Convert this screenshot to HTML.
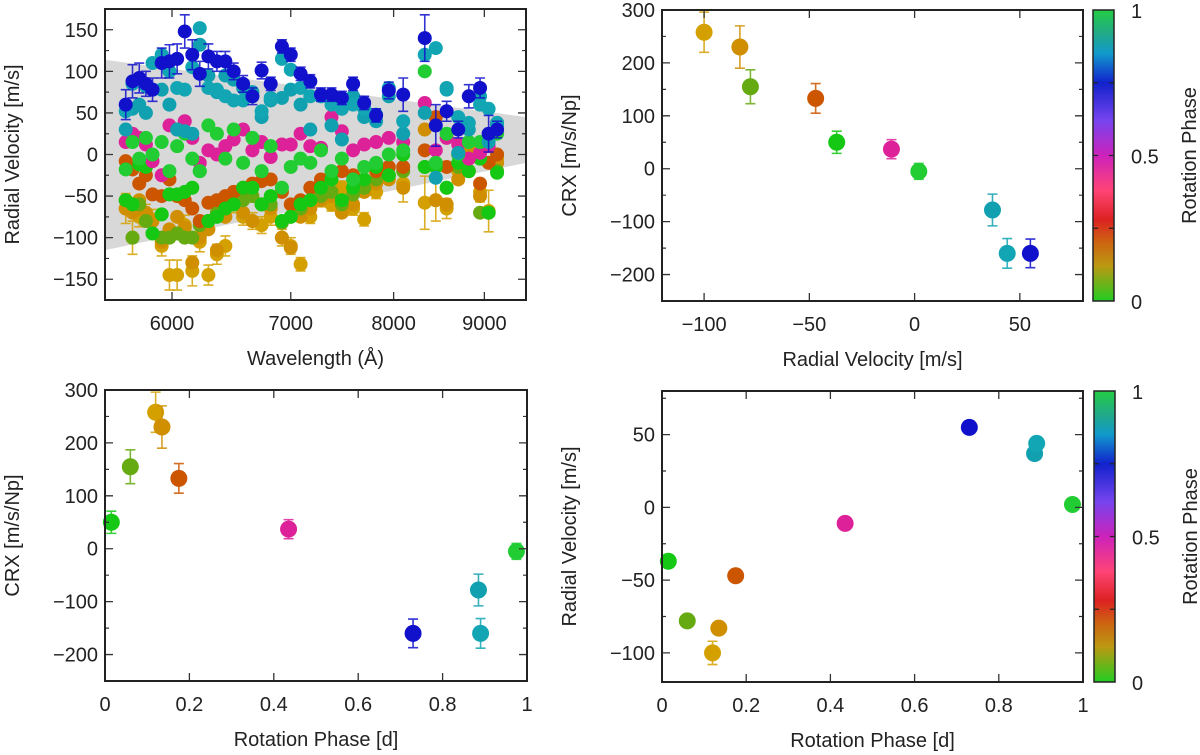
<!DOCTYPE html>
<html><head><meta charset="utf-8">
<style>
html,body{margin:0;padding:0;background:#fff;}
svg{display:block;font-family:"Liberation Sans",sans-serif;}
</style></head>
<body>
<svg id="fig" width="1200" height="755" viewBox="0 0 1200 755" xmlns="http://www.w3.org/2000/svg">
<defs>
<linearGradient id="cmap" x1="0" y1="0" x2="0" y2="1">
<stop offset="0" stop-color="#22cc44"/><stop offset="0.08" stop-color="#22aa88"/><stop offset="0.15" stop-color="#1199cc"/>
<stop offset="0.25" stop-color="#1122cc"/><stop offset="0.38" stop-color="#7744ee"/><stop offset="0.5" stop-color="#cc22bb"/>
<stop offset="0.62" stop-color="#ff4477"/><stop offset="0.72" stop-color="#dd2222"/><stop offset="0.8" stop-color="#cc6611"/>
<stop offset="0.88" stop-color="#bb9911"/><stop offset="1" stop-color="#22cc22"/>
</linearGradient>
</defs>
</svg>
<script>
// ---- data ----
const epochPhase = [0.015, 0.06, 0.12, 0.135, 0.175, 0.435, 0.73, 0.885, 0.89, 0.975];
const epochRV    = [-37, -78, -100, -83, -47, -11, 55, 37, 44, 2];
const epochRVerr = [0, 0, 8, 4, 0, 0, 0, 0, 0, 0];
const epochCRX   = [50, 155, 258, 230, 133, 37, -160, -78, -160, -5];
const epochCRXerr= [21, 32, 38, 40, 28, 18, 27, 30, 28, 15];
const epochColor = ['#14c814','#66aa11','#d4a000','#cf8f00','#cc5500','#dd2299','#1111cc','#11a0b0','#12a6b5','#22cc33'];

const wavelengths = [5650,5700,5750,5800,5850,5920,5980,6040,6100,6160,6220,6290,6360,6430,6500,6580,6660,6740,6820,6920,7000,7090,7180,7280,7380,7480,7590,7700,7820,7950,8100,8330,8450,8570,8700,8820,8950,9050,9150];
const rvOchre    = [-65,-100,-75,-72,-78,-110,-145,-145,-85,-140,-105,-145,-120,-110,-60,-75,-80,-85,-75,-100,-110,-132,-75,-55,-60,-40,-65,-78,-45,-25,-35,-58,-55,-65,-20,-5,-45,-68,-5];
const rvOchreErr = [18,20,12,12,12,12,18,18,12,18,12,12,12,12,10,10,10,10,10,10,10,8,8,8,8,8,8,8,8,8,22,32,25,12,10,10,12,25,10];
const rvOchre2   = [-65,-70,-55,-70,-80,-105,-90,-75,-88,-130,-100,-90,-115,-75,-55,-70,-80,-60,-65,-100,-112,-75,-65,-55,-50,-70,-60,-45,-35,-30,-40,30,-55,-60,-30,5,-50,-70,-10];
const rvYelGreen = [-55,-100,-60,-80,-95,-100,-100,-95,-100,-100,-85,-80,-70,-65,-55,-55,-50,-60,-60,-82,-75,-65,-55,-50,-45,-60,-48,-40,-30,-25,-20,-15,-10,-40,-15,-20,-70,-70,-20];
const rvOrange   = [-8,-18,-35,-25,-48,-50,-30,-50,-55,-65,-80,-58,-55,-50,-45,-40,-35,-32,-30,-45,-60,-55,-40,-30,-25,-20,-25,-30,-20,-15,-15,5,45,-15,0,-20,-35,-10,0];
const rvGreen1   = [-55,-60,-12,-15,-95,-72,-48,-48,-45,-40,-20,-80,-75,-65,-60,-40,-40,-60,-50,-80,-75,-60,-55,-40,-30,-55,-40,-30,-15,-25,0,-15,-15,-40,-10,-20,-5,-70,-22];
const rvMagenta  = [15,25,20,12,-8,-25,35,30,40,20,-10,5,0,10,18,30,5,15,-3,12,12,25,10,8,45,28,5,12,15,20,15,62,5,20,12,-5,2,10,38];
const rvGreen2   = [-18,15,-5,20,0,15,-20,10,25,-5,-20,35,25,-5,30,-10,20,-20,10,-40,-15,-5,-10,5,-20,-5,-30,-15,-10,0,5,100,-10,25,0,15,15,20,25];
const rvTealB    = [30,55,60,50,78,78,60,30,28,25,132,95,75,95,90,80,75,45,65,68,78,60,30,70,35,18,70,45,40,70,25,50,-28,80,2,30,70,15,35];
const rvTealA    = [52,85,90,82,110,120,100,80,78,105,152,80,78,70,65,65,70,52,68,115,102,80,70,70,60,55,60,55,48,80,40,120,128,78,45,38,60,55,38];
const rvBlue     = [60,88,92,85,78,110,112,115,148,120,97,118,112,112,100,85,70,101,85,130,120,97,88,72,72,68,85,62,47,77,72,140,35,52,30,70,80,25,30];
const rvBlueErr  = [18,20,18,15,14,18,20,18,20,18,15,15,12,12,10,10,10,10,8,8,8,8,8,8,8,8,8,8,8,10,20,28,25,12,10,14,12,22,10];
const wlSeries   = [rvOchre, rvOchre2, rvYelGreen, rvOrange, rvGreen1, rvMagenta, rvGreen2, rvTealB, rvTealA, rvBlue];
const wlColors   = ['#d4a000','#cf8f00','#66aa11','#cc5500','#14c814','#dd2299','#22cc33','#11a0b0','#12a6b5','#1111cc'];
const bandWl     = [5500, 9500];
const bandTop    = [114, 45];
const bandBot    = [-115, -10];

const svg = document.getElementById('fig');
const NS = 'http://www.w3.org/2000/svg';
function mk(tag, attrs, parent) {
  const e = document.createElementNS(NS, tag);
  for (const k in attrs) e.setAttribute(k, attrs[k]);
  (parent || svg).appendChild(e);
  return e;
}
function lin(d0, d1, p0, p1) { return v => p0 + (v - d0) / (d1 - d0) * (p1 - p0); }
function logs(d0, d1, p0, p1) { return v => p0 + (Math.log(v) - Math.log(d0)) / (Math.log(d1) - Math.log(d0)) * (p1 - p0); }

function frame(L, R, T, B, xs, ys, xt, yt, yminor, xlab, ylab, xfmt, yfmt, name) {
  const g = mk('g', {});
  
  
  for (const v of yminor) {
    const y = ys(v);
    const t = mk('path', {d:`M${L},${y}h4M${R},${y}h-4`, stroke:'#333', 'stroke-width':1.2}, g);
    
    
  }
  for (const v of yt) {
    const y = ys(v);
    const t = mk('path', {d:`M${L},${y}h8M${R},${y}h-8`, stroke:'#333', 'stroke-width':1.3}, g);
    
    
    const l = mk('text', {x:L-7, y:y+7, 'text-anchor':'end', 'font-size':20, fill:'#222'}, g);
    l.textContent = yfmt(v);
    
    
  }
  for (const v of xt) {
    const x = xs(v);
    const t = mk('path', {d:`M${x},${B}v-8M${x},${T}v8`, stroke:'#333', 'stroke-width':1.3}, g);
    
    
    const l = mk('text', {x:x, y:B+30, 'text-anchor':'middle', 'font-size':20, fill:'#222'}, g);
    l.textContent = xfmt(v);
    
    
  }
  const f = mk('rect', {x:L, y:T, width:R-L, height:B-T, fill:'none', stroke:'#222', 'stroke-width':2}, g);
  
  
  const xl = mk('text', {x:(L+R)/2, y:B+65, 'text-anchor':'middle', 'font-size':20, fill:'#222'}, g);
  xl.textContent = xlab;
  
  
  const yx = L - 86, yy = (T + B) / 2;
  const yl = mk('text', {x:yx, y:yy, 'text-anchor':'middle', 'font-size':20, fill:'#222', transform:`rotate(-90 ${yx} ${yy})`}, g);
  yl.textContent = ylab;
  
  
}
function fmt(v){ return v < 0 ? '\u2212' + (-v) : String(v); }
function fmt1(v){ return (v === 0 || v === 1) ? String(v) : v.toFixed(1); }

function point(g, x, y, r, color, eTop, eBot, name) {
  if (eTop !== null && eTop !== eBot) {
    const eb = mk('path', {d:`M${x},${eTop}V${eBot}M${x-5},${eTop}h10M${x-5},${eBot}h10`, stroke:color, 'stroke-width':1.6, opacity:0.85}, g);
    
    
  }
  const c = mk('circle', {cx:x, cy:y, r:r, fill:color}, g);
  
  
}

function colorbar(L, T, W, H, name) {
  const g = mk('g', {});
  
  
  const r = mk('rect', {x:L, y:T, width:W, height:H, fill:'url(#cmap)', stroke:'#222', 'stroke-width':1.5}, g);
  
  
  const cs = lin(0, 1, T + H, T);
  for (const v of [0.25, 0.5, 0.75]) {
    const tk = mk('path', {d:`M${L},${cs(v)}h5M${L+W},${cs(v)}h-5`, stroke:'#222', 'stroke-width':1.3}, g);
    
    
  }
  for (const v of [0, 0.5, 1]) {
    const l = mk('text', {x:L+W+17, y:cs(v)+8, 'font-size':20, fill:'#222'}, g);
    l.textContent = String(v);
    
    
  }
  const tx = L + W + 82, ty = T + H / 2;
  const t = mk('text', {x:tx, y:ty, 'text-anchor':'middle', 'font-size':20, fill:'#222', transform:`rotate(-90 ${tx} ${ty})`}, g);
  t.textContent = 'Rotation Phase';
  
  
}

// ---- Panel 1: RV vs wavelength ----
{
  const L=105,R=526,T=9,B=300;
  const xs = logs(5500, 9500, L, R), ys = lin(-175, 175, B, T);
  const g = mk('g', {});
  
  
  const band = mk('polygon', {points:`${xs(bandWl[0])},${ys(bandTop[0])} ${xs(bandWl[1])},${ys(bandTop[1])} ${xs(bandWl[1])},${ys(bandBot[1])} ${xs(bandWl[0])},${ys(bandBot[0])}`, fill:'#d8d8d8'}, g);
  
  
  wlSeries.forEach((s, si) => {
    s.forEach((v, i) => {
      let e = 0;
      if (s === rvBlue) e = rvBlueErr[i];
      if (s === rvOchre) e = rvOchreErr[i];
      point(g, xs(wavelengths[i]), ys(v), 7, wlColors[si], e ? ys(v + e) : null, e ? ys(v - e) : null, 'rv-point');
    });
  });
  frame(L,R,T,B,xs,ys,[6000,7000,8000,9000],[-150,-100,-50,0,50,100,150],
    [-175,-125,-75,-25,25,75,125,175],'Wavelength (\u00C5)','Radial Velocity [m/s]',String,fmt,'panel-rv-wavelength');
}
// ---- Panel 2: CRX vs RV ----
{
  const L=662,R=1083,T=10,B=301;
  const xs = lin(-120, 80, L, R), ys = lin(-250, 300, B, T);
  const g = mk('g', {});
  
  
  epochRV.forEach((v, i) => point(g, xs(v), ys(epochCRX[i]), 8.5, epochColor[i], ys(epochCRX[i]+epochCRXerr[i]), ys(epochCRX[i]-epochCRXerr[i]), 'crx-rv-point'));
  frame(L,R,T,B,xs,ys,[-100,-50,0,50],[-200,-100,0,100,200,300],[-250,-150,-50,50,150,250],
    'Radial Velocity [m/s]','CRX [m/s/Np]',fmt,fmt,'panel-crx-rv');
  colorbar(1093, 10, 21, 291, 'colorbar-top');
}
// ---- Panel 3: CRX vs phase ----
{
  const L=105,R=527,T=390,B=681;
  const xs = lin(0, 1, L, R), ys = lin(-250, 300, B, T);
  const g = mk('g', {});
  
  
  epochPhase.forEach((p, i) => point(g, xs(p), ys(epochCRX[i]), 8.5, epochColor[i], ys(epochCRX[i]+epochCRXerr[i]), ys(epochCRX[i]-epochCRXerr[i]), 'crx-phase-point'));
  frame(L,R,T,B,xs,ys,[0,0.2,0.4,0.6,0.8,1],[-200,-100,0,100,200,300],[-250,-150,-50,50,150,250],
    'Rotation Phase [d]','CRX [m/s/Np]',fmt1,fmt,'panel-crx-phase');
}
// ---- Panel 4: RV vs phase ----
{
  const L=662,R=1083,T=391,B=682;
  const xs = lin(0, 1, L, R), ys = lin(-120, 80, B, T);
  const g = mk('g', {});
  
  
  epochPhase.forEach((p, i) => point(g, xs(p), ys(epochRV[i]), 8.5, epochColor[i], ys(epochRV[i]+epochRVerr[i]), ys(epochRV[i]-epochRVerr[i]), 'rv-phase-point'));
  frame(L,R,T,B,xs,ys,[0,0.2,0.4,0.6,0.8,1],[-100,-50,0,50],[-75,-25,25,75],
    'Rotation Phase [d]','Radial Velocity [m/s]',fmt1,fmt,'panel-rv-phase');
  colorbar(1094, 391, 21, 291, 'colorbar-bottom');
}
</script>
</body></html>
